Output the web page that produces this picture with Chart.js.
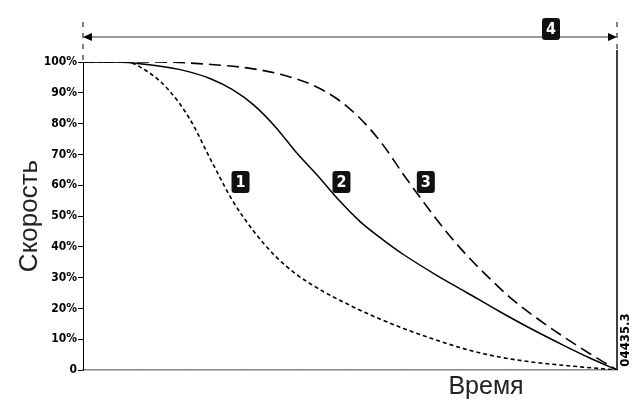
<!DOCTYPE html>
<html lang="ru">
<head>
<meta charset="UTF-8">
<title>Скорость / Время</title>
<script src="https://cdn.jsdelivr.net/npm/chart.js"></script>
<style>
    html, body { margin: 0; padding: 0; background: #fff; }
    #wrap { width: 634px; height: 407px; position: relative; }
</style>
</head>
<body>
<div id="wrap"><canvas id="speedChart"></canvas></div>
<script>
    // time in % of stop time, speed in %
    const curve1X = [0, 8, 12, 16, 20, 24, 28, 32, 36, 40, 45, 50, 55, 60, 66, 72, 78, 85, 92, 100];
    const curve1Y = [100, 100, 97, 91, 81.5, 68, 55, 45, 37, 31, 25.5, 21, 17, 13.5, 9.8, 6.6, 4.2, 2.4, 1.2, 0];
    const curve2X = [0, 6, 12, 18, 24, 28, 32, 36, 40, 44, 48, 52, 56, 60, 66, 72, 78, 84, 90, 95, 100];
    const curve2Y = [100, 100, 99.2, 97.6, 94.5, 91, 86, 79, 70.5, 63, 55, 48, 42.5, 37.5, 31, 25, 19, 13.3, 8, 3.8, 0];
    const curve3X = [0, 14, 24, 31, 37, 43, 48, 52, 56, 60, 64, 68, 72, 76, 80, 85, 90, 95, 100];
    const curve3Y = [100, 100, 99.2, 98, 96, 92.5, 87.5, 81.5, 73.5, 63.5, 54, 45, 37, 30, 23.5, 16.8, 10.8, 5.2, 0];
    const yTicks = [0, 10, 20, 30, 40, 50, 60, 70, 80, 90, 100];
    const markers = [
        { label: '1', x: 29.5, y: 61 },
        { label: '2', x: 48.4, y: 61 },
        { label: '3', x: 64.2, y: 61 }
    ];

    function pts(xs, ys) {
        return xs.map((x, i) => ({ x: x, y: ys[i] }));
    }

    function roundBox(ctx, cx, cy, w, h, r) {
        ctx.beginPath();
        ctx.moveTo(cx - w / 2 + r, cy - h / 2);
        ctx.arcTo(cx + w / 2, cy - h / 2, cx + w / 2, cy + h / 2, r);
        ctx.arcTo(cx + w / 2, cy + h / 2, cx - w / 2, cy + h / 2, r);
        ctx.arcTo(cx - w / 2, cy + h / 2, cx - w / 2, cy - h / 2, r);
        ctx.arcTo(cx - w / 2, cy - h / 2, cx + w / 2, cy - h / 2, r);
        ctx.closePath();
        ctx.fill();
    }

    function drawTag(ctx, text, cx, cy) {
        ctx.fillStyle = '#111';
        roundBox(ctx, cx, cy, 18, 22, 3);
        ctx.fillStyle = '#fff';
        ctx.font = 'bold 16px "Liberation Sans Narrow", "DejaVu Sans Condensed", sans-serif';
        ctx.textAlign = 'center';
        ctx.textBaseline = 'middle';
        ctx.fillText(text, cx, cy + 1);
    }

    const extras = {
        id: 'extras',
        afterDraw(chart) {
            const ctx = chart.ctx;
            const xs = chart.scales.x, ys = chart.scales.y;
            const left = xs.getPixelForValue(0), right = xs.getPixelForValue(100);
            const top = ys.getPixelForValue(100), bottom = ys.getPixelForValue(0);
            ctx.save();

            // right border line
            ctx.strokeStyle = '#000';
            ctx.lineWidth = 1.5;
            ctx.beginPath();
            ctx.moveTo(right, 50);
            ctx.lineTo(right, bottom);
            ctx.stroke();

            // dashed extension lines for the time span
            ctx.lineWidth = 1;
            ctx.setLineDash([5, 6]);
            [left, right].forEach(px => {
                ctx.beginPath();
                ctx.moveTo(px, 22);
                ctx.lineTo(px, px === left ? top : 50);
                ctx.stroke();
            });
            ctx.setLineDash([]);

            // double arrow
            const ay = 37;
            ctx.strokeStyle = '#777';
            ctx.lineWidth = 1.5;
            ctx.beginPath();
            ctx.moveTo(left + 6, ay);
            ctx.lineTo(right - 6, ay);
            ctx.stroke();
            ctx.fillStyle = '#000';
            ctx.beginPath();
            ctx.moveTo(left, ay);
            ctx.lineTo(left + 9, ay - 4);
            ctx.lineTo(left + 9, ay + 4);
            ctx.closePath();
            ctx.fill();
            ctx.beginPath();
            ctx.moveTo(right, ay);
            ctx.lineTo(right - 9, ay - 4);
            ctx.lineTo(right - 9, ay + 4);
            ctx.closePath();
            ctx.fill();

            drawTag(ctx, '4', 551, 29);
            markers.forEach(m => {
                drawTag(ctx, m.label, xs.getPixelForValue(m.x), ys.getPixelForValue(m.y));
            });

            // axis titles
            ctx.fillStyle = '#222';
            ctx.textAlign = 'center';
            ctx.textBaseline = 'middle';
            ctx.font = '26px "Liberation Sans", Arial, sans-serif';
            ctx.save();
            ctx.translate(30, 216);
            ctx.rotate(-Math.PI / 2);
            ctx.fillText('Скорость', 0, 0);
            ctx.restore();
            ctx.font = '25px "Liberation Sans", Arial, sans-serif';
            ctx.fillText('Время', 486, 387);

            // figure code
            ctx.font = 'bold 13px "Liberation Sans Narrow", "DejaVu Sans Condensed", sans-serif';
            ctx.fillStyle = '#000';
            ctx.save();
            ctx.translate(626, 340);
            ctx.rotate(-Math.PI / 2);
            ctx.fillText('04435.3', 0, 0);
            ctx.restore();

            ctx.restore();
        }
    };

    const lineStyle = {
        borderColor: '#000',
        pointRadius: 0,
        fill: false,
        cubicInterpolationMode: 'monotone'
    };

    new Chart(document.getElementById('speedChart'), {
        type: 'line',
        data: {
            datasets: [
                Object.assign({ label: '1', data: pts(curve1X, curve1Y), borderWidth: 1.6, borderDash: [4, 3] }, lineStyle),
                Object.assign({ label: '2', data: pts(curve2X, curve2Y), borderWidth: 1.5 }, lineStyle),
                Object.assign({ label: '3', data: pts(curve3X, curve3Y), borderWidth: 1.6, borderDash: [12, 6] }, lineStyle)
            ]
        },
        options: {
            responsive: true,
            maintainAspectRatio: false,
            animation: false,
            layout: { padding: { left: 0, right: 17, top: 62, bottom: 0 } },
            plugins: { legend: { display: false }, tooltip: { enabled: false } },
            scales: {
                x: {
                    type: 'linear',
                    min: 0,
                    max: 100,
                    afterFit: (scale) => { scale.height = 37; },
                    grid: { drawOnChartArea: false, tickLength: 0 },
                    border: { color: '#888', width: 1.5 },
                    ticks: { display: false }
                },
                y: {
                    min: 0,
                    max: 100,
                    afterFit: (scale) => { scale.width = 83; },
                    afterBuildTicks: (scale) => { scale.ticks = yTicks.map(v => ({ value: v })); },
                    grid: { drawOnChartArea: false, tickLength: 5, color: '#000' },
                    border: { color: '#000', width: 1 },
                    ticks: {
                        color: '#000',
                        padding: 1,
                        font: { family: '"Liberation Sans Narrow", "DejaVu Sans Condensed", sans-serif', size: 12, weight: 'bold' },
                        callback: (v) => v === 0 ? '0' : v + '%'
                    }
                }
            }
        },
        plugins: [extras]
    });
</script>
</body>
</html>
